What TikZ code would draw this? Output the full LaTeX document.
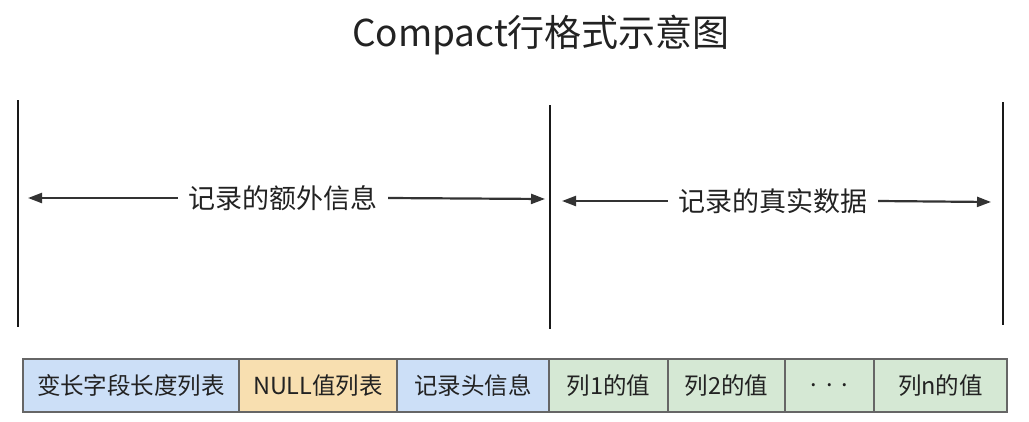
\documentclass[tikz,border=0pt]{standalone}
\usepackage{fontspec}
\setmainfont{Noto Sans CJK SC}
\usetikzlibrary{arrows.meta}
\definecolor{boxblue}{HTML}{CCDFF7}
\definecolor{boxorange}{HTML}{F8DFB0}
\definecolor{boxgreen}{HTML}{D5E8D4}
\definecolor{boxline}{HTML}{666666}
\definecolor{arrowgray}{HTML}{333333}
\definecolor{txt}{HTML}{222222}
\tikzset{
  cell/.style={draw=boxline, line width=1.2pt, minimum height=53pt, inner sep=0pt, outer sep=0pt,
    text=txt, font=\fontsize{23.5}{25}\selectfont, anchor=west},
  bar/.style={draw=black!90, line width=2.4pt},
  span/.style={draw=arrowgray, line width=2.2pt, -{Triangle[length=14pt,width=10pt]}},
  spanlabel/.style={text=txt, font=\fontsize{27}{29}\selectfont, inner sep=0pt}
}
\begin{document}
\begin{tikzpicture}[x=1pt,y=-1pt]
\useasboundingbox (0,0) rectangle (1029,421);
\fill[white] (0,0) rectangle (1029,421);
\node[text=txt, font=\fontsize{37}{40}\selectfont, inner sep=0pt] (title) at (541,35) {Compact行格式示意图};
% vertical bars
\coordinate (b1t) at (18,100); \coordinate (b1b) at (18,327);
\coordinate (b2t) at (550,105); \coordinate (b2b) at (550,329);
\coordinate (b3t) at (1003,102); \coordinate (b3b) at (1003,325);
\draw[bar] (b1t) -- (b1b);
\draw[bar] (b2t) -- (b2b);
\draw[bar] (b3t) -- (b3b);
% arrows
\node[spanlabel, minimum width=210pt] (extra) at (283,198) {记录的额外信息};
\coordinate (e1) at (28,198); \coordinate (e2) at (545,199);
\draw[span] (extra.west) -- (e1);
\draw[span] (extra.east) -- (e2);
\node[spanlabel, minimum width=210pt] (real) at (773,201) {记录的真实数据};
\coordinate (r1) at (562,201); \coordinate (r2) at (991,202);
\draw[span] (real.west) -- (r1);
\draw[span] (real.east) -- (r2);
% cells
\node[cell, fill=boxblue, minimum width=216pt] (c1) at (23,385.5) {变长字段长度列表};
\node[cell, fill=boxorange, minimum width=158pt] (c2) at (c1.east) {NULL值列表};
\node[cell, fill=boxblue, minimum width=152pt] (c3) at (c2.east) {记录头信息};
\node[cell, fill=boxgreen, minimum width=119pt] (c4) at (c3.east) {列1的值};
\node[cell, fill=boxgreen, minimum width=117pt] (c5) at (c4.east) {列2的值};
\node[cell, fill=boxgreen, minimum width=89pt] (c6) at (c5.east) {.\hspace{9pt}.\hspace{9pt}.};
\node[cell, fill=boxgreen, minimum width=133pt] (c7) at (c6.east) {列n的值};
\end{tikzpicture}
\end{document}
